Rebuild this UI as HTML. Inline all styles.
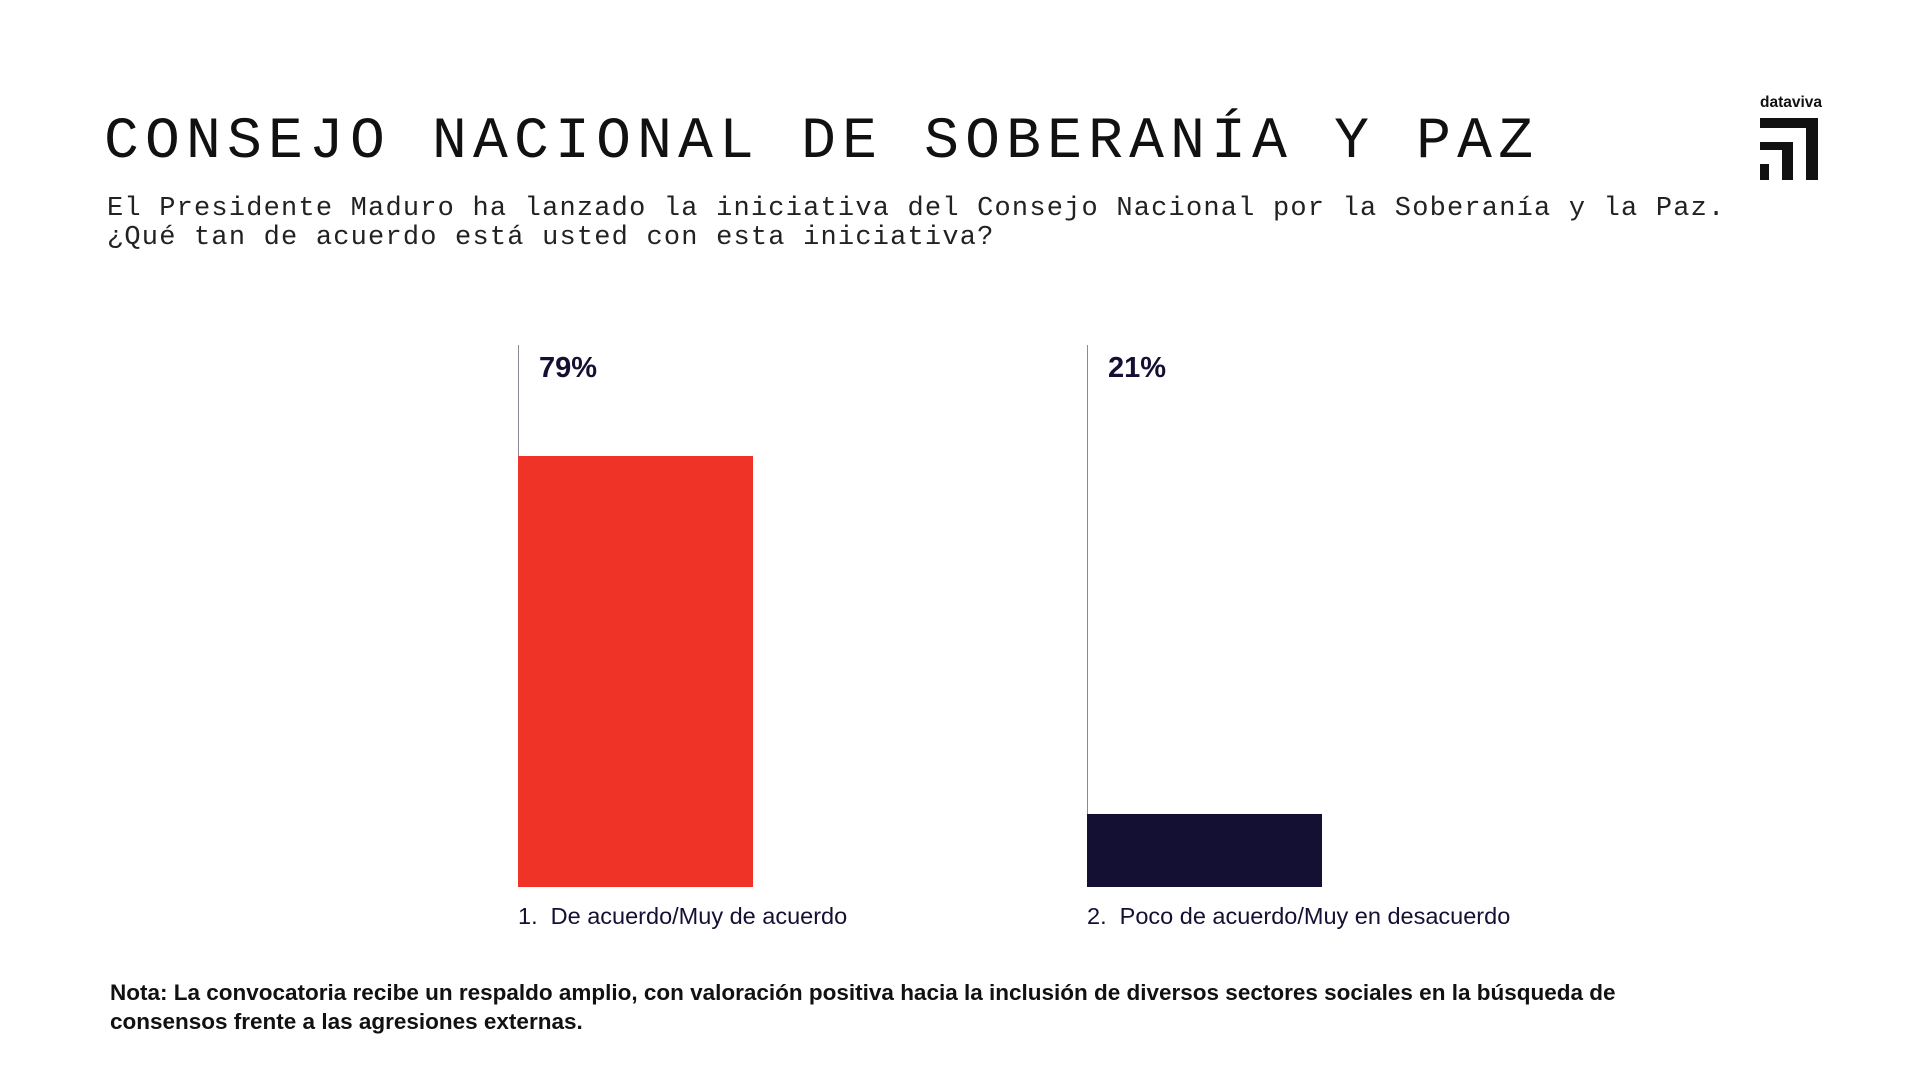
<!DOCTYPE html>
<html><head><meta charset="utf-8"><style>
html,body{margin:0;padding:0;background:#fff;width:1920px;height:1080px;overflow:hidden}
svg{display:block}
.pre{white-space:pre}
</style></head><body>
<svg width="1920" height="1080" viewBox="0 0 1920 1080" xmlns="http://www.w3.org/2000/svg">
<text x="104" y="157" font-family="Liberation Mono, monospace" font-size="58" letter-spacing="6.2" fill="#111">CONSEJO NACIONAL DE SOBERANÍA Y PAZ</text>
<g font-family="Liberation Mono, monospace" font-size="27" letter-spacing="1.2" fill="#222">
<text x="107" y="215">El Presidente Maduro ha lanzado la iniciativa del Consejo Nacional por la Soberanía y la Paz.</text>
<text x="107" y="244">¿Qué tan de acuerdo está usted con esta iniciativa?</text>
</g>
<g>
<text x="1760" y="107" font-family="Liberation Sans, sans-serif" font-weight="bold" font-size="15.5" fill="#111">dataviva</text>
<path d="M1760 118H1818V180H1806V128H1760Z" fill="#111"/>
<path d="M1760 142H1793V180H1782V150H1760Z" fill="#111"/>
<rect x="1760" y="164" width="9" height="16" fill="#111"/>
</g>
<g id="plot"></g>
<g font-family="Liberation Sans, sans-serif" font-weight="bold" font-size="22.5" fill="#111">
<text x="110" y="1000">Nota: La convocatoria recibe un respaldo amplio, con valoración positiva hacia la inclusión de diversos sectores sociales en la búsqueda de</text>
<text x="110" y="1029">consensos frente a las agresiones externas.</text>
</g>
</svg>
<script>
const categories = ["1.  De acuerdo/Muy de acuerdo", "2.  Poco de acuerdo/Muy en desacuerdo"];
const values = [79, 21];
const valueLabels = ["79%", "21%"];
const colors = ["#f03327", "#141033"];
const NS = "http://www.w3.org/2000/svg";
const plot = document.getElementById("plot");
const baseY = 887, axisTop = 345;
const vMin = 9.17, pxPerUnit = 6.172;
function yScale(v){ return baseY - (v - vMin) * pxPerUnit; }
function xScale(i){ return 518 + i * 569; }
const barW = 235;
function mk(tag, attrs){ const e = document.createElementNS(NS, tag); for (const k in attrs) e.setAttribute(k, attrs[k]); return e; }
categories.forEach((c, i) => {
  const x = xScale(i), y = yScale(values[i]);
  const ln = mk("line", {x1: x + 0.5, x2: x + 0.5, y1: axisTop, y2: baseY, stroke: "#8a8a95", "stroke-width": 1});
  
  
  plot.appendChild(ln);
  const r = mk("rect", {x: x, y: y, width: barW, height: baseY - y, fill: colors[i]});
  
  
  plot.appendChild(r);
  const vl = mk("text", {x: x + 21, y: 377, "font-family": "Liberation Sans, sans-serif", "font-weight": "bold", "font-size": 29, fill: "#141033"});
  vl.textContent = valueLabels[i];
  
  
  plot.appendChild(vl);
  const cl = mk("text", {x: x, y: 924, "font-family": "Liberation Sans, sans-serif", "font-size": 23.5, fill: "#141033", "class": "pre"});
  cl.textContent = c;
  
  
  plot.appendChild(cl);
});
</script>
</body></html>
